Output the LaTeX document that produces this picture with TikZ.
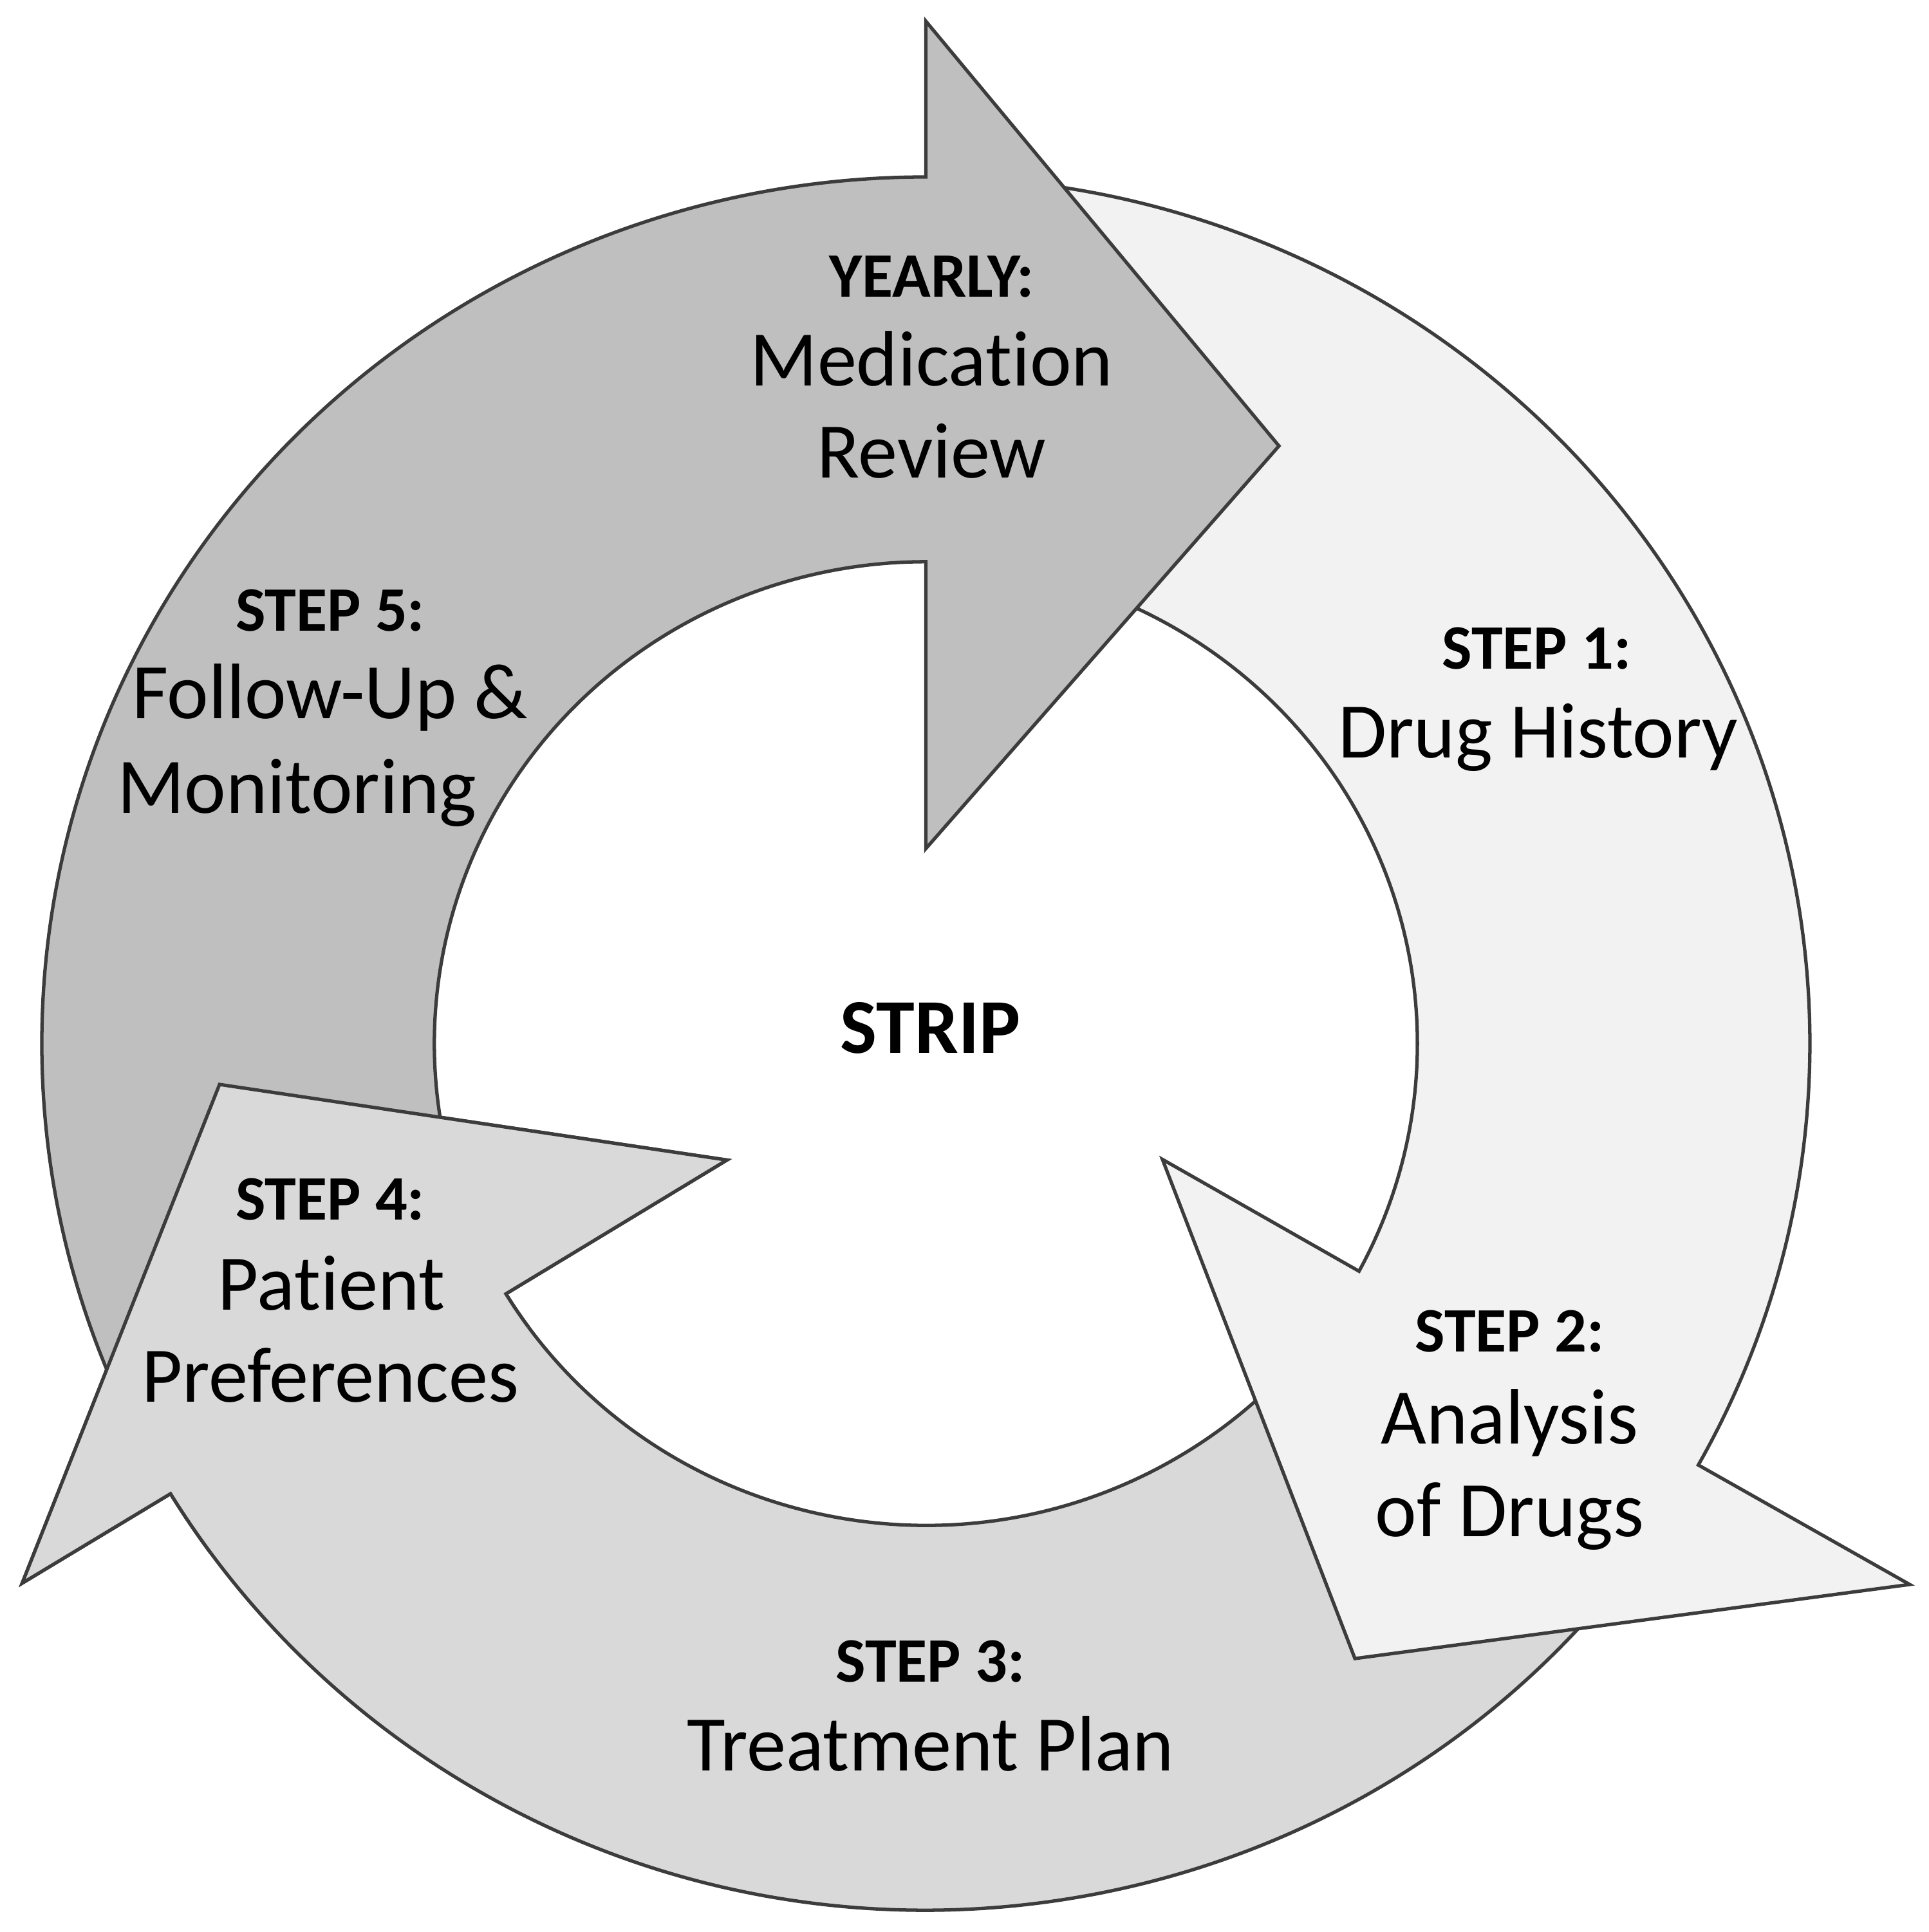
\documentclass[tikz,border=0pt]{standalone}
\usepackage{fontspec}
\setmainfont{Carlito}[Ligatures=NoCommon]
\definecolor{darkfill}{HTML}{BFBFBF}
\definecolor{medfill}{HTML}{D9D9D9}
\definecolor{lightfill}{HTML}{F2F2F2}
\definecolor{edgegray}{HTML}{3C3C3C}
\newcommand\MedArrow{(327:1) arc[start angle=327, end angle=211.3, x radius=13.735cm, y radius=13.465cm] -- (-1.0222,-0.6227) -- (-0.7990,-0.0472) -- (-0.2250,-0.1344) -- (211.3:0.556) arc[start angle=211.3, end angle=327, x radius=7.637cm, y radius=7.487cm] -- cycle}
\newcommand\LightArrow{(85:1) arc[start angle=85, end angle=-29.1, x radius=13.735cm, y radius=13.465cm] -- (1.1128,-0.6242) -- (0.4853,-0.7097) -- (0.2676,-0.1337) -- (-28.2:0.556) arc[start angle=-28.2, end angle=85, x radius=7.637cm, y radius=7.487cm] -- cycle}
\newcommand\DarkArrow{(205:1) arc[start angle=205, end angle=90, x radius=13.735cm, y radius=13.465cm] -- (0,1.1797) -- (0.3994,0.6896) -- (0,0.225) -- (90:0.556) arc[start angle=90, end angle=205, x radius=7.637cm, y radius=7.487cm] -- cycle}
\begin{document}
\begin{tikzpicture}[
  arrowshape/.style={draw=edgegray, line width=1.5pt, line join=miter},
  body/.style={font=\fontsize{34.8}{40}\selectfont, anchor=base, inner sep=0pt},
  head/.style={font=\bfseries\fontsize{28}{32}\selectfont, anchor=base, inner sep=0pt},
  title/.style={font=\bfseries\fontsize{34.3}{40}\selectfont, anchor=base, inner sep=0pt}
]
\fill[white] (-14.385cm,-13.805cm) rectangle (15.575cm,16.215cm);
\useasboundingbox (-14.385cm,-13.805cm) rectangle (15.575cm,16.215cm);

\begin{scope}[x=13.735cm, y=13.465cm]
  \draw[arrowshape, fill=medfill] \MedArrow;
  \draw[arrowshape, fill=lightfill] \LightArrow;
  \draw[arrowshape, fill=darkfill] \DarkArrow;
  \begin{scope}
    \clip (0,0) -- (178:2) -- (216:2) -- cycle;
    \draw[arrowshape, fill=medfill] \MedArrow;
  \end{scope}
\end{scope}

% Yearly
\node[head] (y1) at (0.088cm,11.60cm) {YEARLY:};
\node[body] (y2) at (0.088cm,10.22cm) {Medication};
\node[body] (y3) at (0.088cm,8.79cm) {Review};
% Step 5
\node[head] (s5a) at (-9.254cm,6.41cm) {STEP 5:};
\node[body] (s5b) at (-9.254cm,5.05cm) {Follow-Up \&};
\node[body] (s5c) at (-9.77cm,3.58cm) {Monitoring};
% Step 1
\node[head] (s1a) at (9.49cm,5.82cm) {STEP 1:};
\node[body] (s1b) at (9.51cm,4.44cm) {Drug History};
% Step 2
\node[head] (s2a) at (9.07cm,-4.79cm) {STEP 2:};
\node[body] (s2b) at (9.07cm,-6.22cm) {Analysis};
\node[body] (s2c) at (9.07cm,-7.66cm) {of Drugs};
% Step 3
\node[head] (s3a) at (0.07cm,-9.92cm) {STEP 3:};
\node[body] (s3b) at (0.07cm,-11.30cm) {Treatment Plan};
% Step 4
\node[head] (s4a) at (-9.254cm,-2.74cm) {STEP 4:};
\node[body] (s4b) at (-9.235cm,-4.14cm) {Patient};
\node[body] (s4c) at (-9.254cm,-5.57cm) {Preferences};
% centre
\node[title] (strip) at (0.07cm,-0.15cm) {STRIP};
\end{tikzpicture}
\end{document}
